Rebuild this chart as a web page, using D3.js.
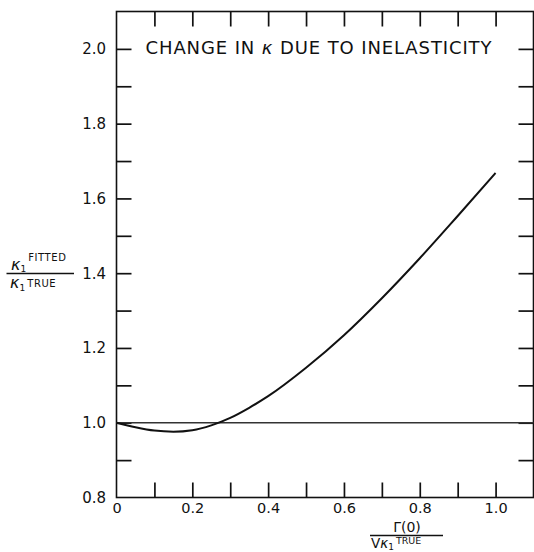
<!DOCTYPE html>
<html>
<head>
<meta charset="utf-8">
<script src="https://cdn.jsdelivr.net/npm/d3@7"></script>
<style>
  html, body { margin: 0; padding: 0; background: #fff; }
  svg text { font-family: "DejaVu Sans", "Liberation Sans", sans-serif; fill: #111; }
</style>
</head>
<body>
<svg id="chart" width="534" height="552"></svg>
<script>
// Γ(0) / (V κ1_true) on the horizontal axis
const gammaRatio = [0, 0.05, 0.10, 0.15, 0.20, 0.25, 0.30, 0.35, 0.40, 0.50, 0.60, 0.70, 0.80, 0.90, 1.00];
// κ1_fitted / κ1_true
const kappaRatio = [1.000, 0.988, 0.979, 0.976, 0.980, 0.993, 1.013, 1.040, 1.071, 1.147, 1.234, 1.333, 1.440, 1.553, 1.668];

const xLabelValues = [0, 0.2, 0.4, 0.6, 0.8, 1.0];
const xLabelText = ["0", "0.2", "0.4", "0.6", "0.8", "1.0"];
const yLabelValues = [0.8, 1.0, 1.2, 1.4, 1.6, 1.8, 2.0];
const yLabelText = ["0.8", "1.0", "1.2", "1.4", "1.6", "1.8", "2.0"];
const xTickMarks = [0.1, 0.2, 0.3, 0.4, 0.5, 0.6, 0.7, 0.8, 0.9, 1.0];
const yTickMarks = [0.9, 1.0, 1.1, 1.2, 1.3, 1.4, 1.5, 1.6, 1.7, 1.8, 1.9, 2.0];
const referenceLevel = [1.0];
const xDomain = [0, 1.1];
const yDomain = [0.8, 2.1];

const svg = d3.select("#chart");
const plotL = 116.5, plotR = 533.5, plotT = 11.5, plotB = 497.5;

const x = d3.scaleLinear().domain(xDomain).range([plotL, plotR]);
const y = d3.scaleLinear().domain(yDomain).range([plotB, plotT]);

// plot frame
svg.append("rect")
  .attr("x", plotL).attr("y", plotT)
  .attr("width", plotR - plotL).attr("height", plotB - plotT)
  .attr("fill", "none").attr("stroke", "#111").attr("stroke-width", 1.6);

// inward tick marks on all four sides
function tickAxis(axis, tx, ty) {
  const g = svg.append("g").attr("transform", `translate(${tx},${ty})`).call(axis);
  g.select(".domain").remove();
  g.selectAll(".tick line").attr("stroke", "#111").attr("stroke-width", 1.7);
  g.selectAll(".tick text").remove();
}
tickAxis(d3.axisBottom(x).tickValues(xTickMarks).tickSize(-15), 0, plotB);
tickAxis(d3.axisTop(x).tickValues(xTickMarks).tickSize(-15), 0, plotT);
tickAxis(d3.axisLeft(y).tickValues(yTickMarks).tickSize(-15), plotL, 0);
tickAxis(d3.axisRight(y).tickValues(yTickMarks).tickSize(-15), plotR, 0);

// numeric labels
const xl = svg.append("g").attr("transform", `translate(0,${plotB})`)
  .call(d3.axisBottom(x).tickValues(xLabelValues).tickSize(0).tickPadding(5.5)
    .tickFormat((d, i) => xLabelText[i]));
xl.select(".domain").remove();
xl.selectAll("text").attr("font-size", 14.5);
xl.attr("font-family", null).attr("font-size", null);

const yl = svg.append("g").attr("transform", `translate(${plotL},0)`)
  .call(d3.axisLeft(y).tickValues(yLabelValues).tickSize(0).tickPadding(10.5)
    .tickFormat((d, i) => yLabelText[i]));
yl.select(".domain").remove();
yl.selectAll("text").attr("font-size", 15);
yl.attr("font-family", null).attr("font-size", null);

// reference line at ratio 1
svg.selectAll("line.ref").data(referenceLevel).enter().append("line")
  .attr("class", "ref")
  .attr("x1", x(xDomain[0])).attr("x2", x(xDomain[1]))
  .attr("y1", d => y(d)).attr("y2", d => y(d))
  .attr("stroke", "#333").attr("stroke-width", 1.5);

// fitted / true curve
const line = d3.line()
  .x((d, i) => x(gammaRatio[i]))
  .y(d => y(d))
  .curve(d3.curveMonotoneX);
svg.append("path")
  .datum(kappaRatio)
  .attr("d", line)
  .attr("fill", "none").attr("stroke", "#111").attr("stroke-width", 2);

// title
const title = svg.append("text")
  .attr("x", 145.5).attr("y", 54)
  .attr("font-size", 18)
  .attr("textLength", 346).attr("lengthAdjust", "spacing");
title.append("tspan").text("CHANGE IN ");
title.append("tspan").attr("font-style", "italic").text("κ");
title.append("tspan").text(" DUE TO INELASTICITY");

// x axis title: Γ(0) over Vκ1^TRUE
svg.append("text").attr("x", 407).attr("y", 532).attr("font-size", 14)
  .attr("text-anchor", "middle").text("Γ(0)");
svg.append("line").attr("x1", 370).attr("x2", 443).attr("y1", 535.5).attr("y2", 535.5)
  .attr("stroke", "#111").attr("stroke-width", 1.3);
const den = svg.append("text").attr("x", 371).attr("y", 548).attr("font-size", 13.5);
den.append("tspan").text("V");
den.append("tspan").attr("font-style", "italic").text("κ");
den.append("tspan").attr("font-size", 9).attr("dy", 1.5).text("1");
den.append("tspan").attr("font-size", 9.5).attr("dy", -6).attr("dx", 2).text("TRUE");

// y axis title: κ1^FITTED over κ1^TRUE
const num = svg.append("text").attr("x", 11).attr("y", 269.5).attr("font-size", 16);
num.append("tspan").attr("font-style", "italic").text("κ");
num.append("tspan").attr("font-size", 9).attr("dy", 2).text("1");
num.append("tspan").attr("font-size", 10).attr("dy", -11).attr("dx", 2)
  .attr("letter-spacing", 0.6).text("FITTED");
svg.append("line").attr("x1", 6.5).attr("x2", 74).attr("y1", 273.5).attr("y2", 273.5)
  .attr("stroke", "#111").attr("stroke-width", 1.3);
const dn = svg.append("text").attr("x", 10).attr("y", 288).attr("font-size", 16);
dn.append("tspan").attr("font-style", "italic").text("κ");
dn.append("tspan").attr("font-size", 9).attr("dy", 3).text("1");
dn.append("tspan").attr("font-size", 10).attr("dy", -4).attr("dx", 2)
  .attr("letter-spacing", 0.6).text("TRUE");
</script>
</body>
</html>
